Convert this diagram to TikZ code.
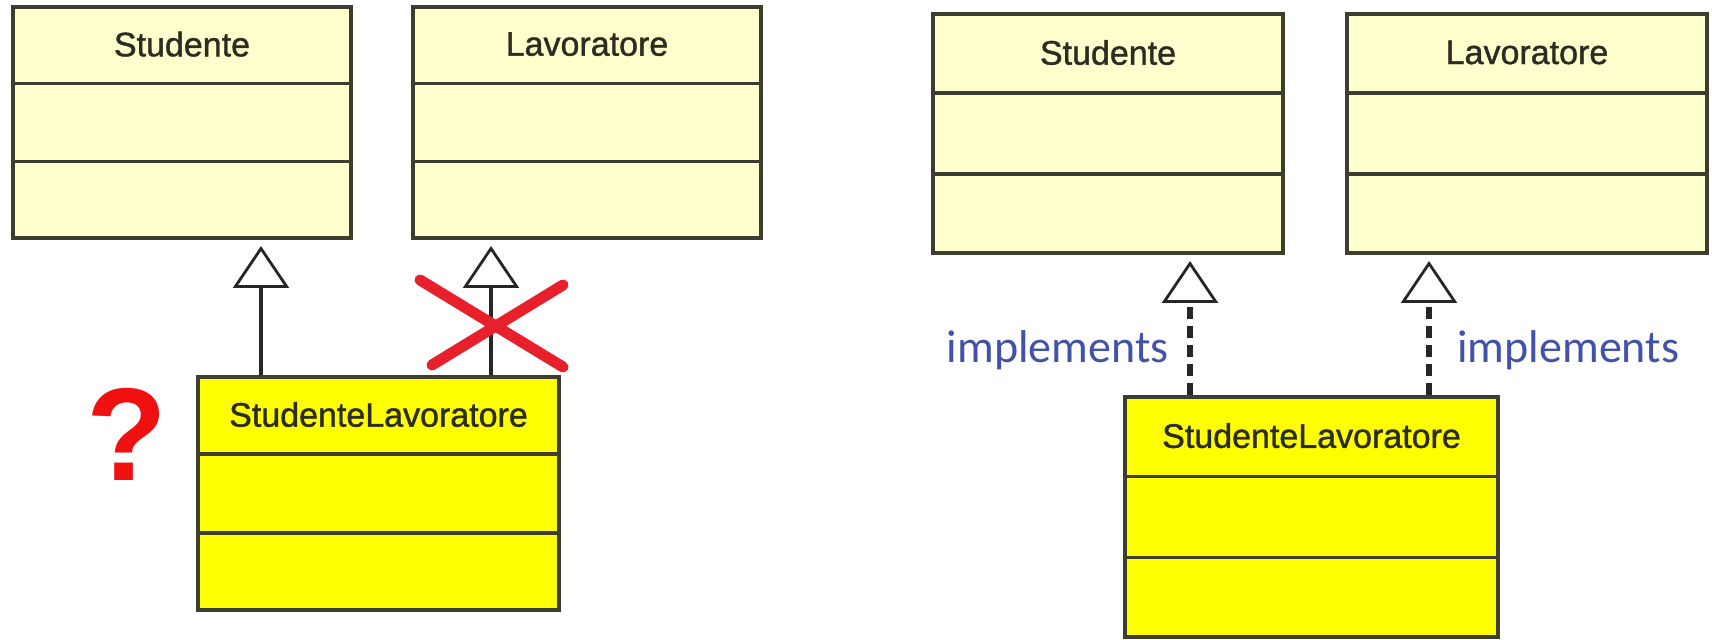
\documentclass[tikz,border=0pt]{standalone}
\usepackage{fontspec}
\setmainfont{Liberation Sans}
\newfontfamily\labelfont{Carlito}
\newfontfamily\umlfont[FakeBold=1.2]{Liberation Sans}
\usetikzlibrary{arrows.meta,calc}
\definecolor{paleyellow}{RGB}{255,255,206}
\definecolor{brightyellow}{RGB}{255,255,0}
\definecolor{umlborder}{RGB}{62,62,48}
\definecolor{umltext}{RGB}{44,44,32}
\definecolor{labelblue}{RGB}{66,82,168}
\definecolor{crossred}{RGB}{232,32,44}
\definecolor{askred}{RGB}{240,16,16}
\begin{document}
\begin{tikzpicture}[x=0.5pt,y=-0.5pt,
  classbox/.style={draw=umlborder, line width=2pt, fill=paleyellow, inner sep=0pt},
  mainclass/.style={classbox, fill=brightyellow},
  divider/.style={draw=umlborder, line width=1.8pt},
  classname/.style={font=\umlfont\fontsize{17}{20}\selectfont, text=umltext, inner sep=0pt},
  gentip/.style={-{Triangle[width=28pt,length=21pt,fill=white,line width=1.4pt]}},
  extends/.style={gentip, draw=black!85, line width=2pt, shorten >=3pt},
  realizes/.style={gentip, draw=black!85, line width=2.6pt, dash pattern=on 6pt off 3.5pt, shorten >=3pt},
  implabel/.style={font=\labelfont\fontsize{23}{27}\selectfont, text=labelblue, inner sep=0pt},
  crossline/.style={draw=crossred, line width=5.5pt, line cap=round}]

\fill[white] (0,0) rectangle (1712,640);
\useasboundingbox (0,0) rectangle (1712,640);

% ---- multiple inheritance (not allowed) ----
\node[classbox, minimum width=169pt, minimum height=115.5pt] (s1) at (182,122.5) {};
\node[classbox, minimum width=174pt, minimum height=115.5pt] (l1) at (587,122.5) {};
\node[mainclass, minimum width=180.5pt, minimum height=116.5pt] (sl1) at (378.5,493.5) {};

% ---- interfaces instead ----
\node[classbox, minimum width=175pt, minimum height=119.5pt] (s2) at (1108,133.5) {};
\node[classbox, minimum width=180pt, minimum height=119.5pt] (l2) at (1527,133.5) {};
\node[mainclass, minimum width=186.5pt, minimum height=120pt] (sl2) at (1311.5,517) {};

% compartments and class names
\foreach \b/\t in {s1/Studente, l1/Lavoratore, sl1/StudenteLavoratore,
                   s2/Studente, l2/Lavoratore, sl2/StudenteLavoratore}{
  \draw[divider] ($(\b.north west)!1/3!(\b.south west)$) -- ($(\b.north east)!1/3!(\b.south east)$);
  \draw[divider] ($(\b.north west)!2/3!(\b.south west)$) -- ($(\b.north east)!2/3!(\b.south east)$);
  \node[classname] (\b-name) at ($(\b.north)!1/6!(\b.south)$) {\t};
}

% inheritance arrows
\draw[extends] ($(sl1.north west)+(65,0)$) coordinate (e1) -- (e1 |- s1.south);
\draw[extends] ($(sl1.north west)+(295,0)$) coordinate (e2) -- (e2 |- l1.south);

% realization arrows
\draw[realizes] ($(sl2.north west)+(67,0)$) coordinate (r1) -- (r1 |- s2.south);
\draw[realizes] ($(sl2.north west)+(306,0)$) coordinate (r2) -- (r2 |- l2.south);

\node[implabel, anchor=east] (imp1) at (1169,350) {implements};
\node[implabel, anchor=west] (imp2) at (1457,350) {implements};

% red cross over the second inheritance
\draw[crossline] (420,280) -- (563,367);
\draw[crossline] (563,285) -- (432,365);

% question mark
\node[font=\fontsize{66}{72}\selectfont\bfseries, text=askred, inner sep=0pt] (ask) at (127,434) {?};
\end{tikzpicture}
\end{document}
